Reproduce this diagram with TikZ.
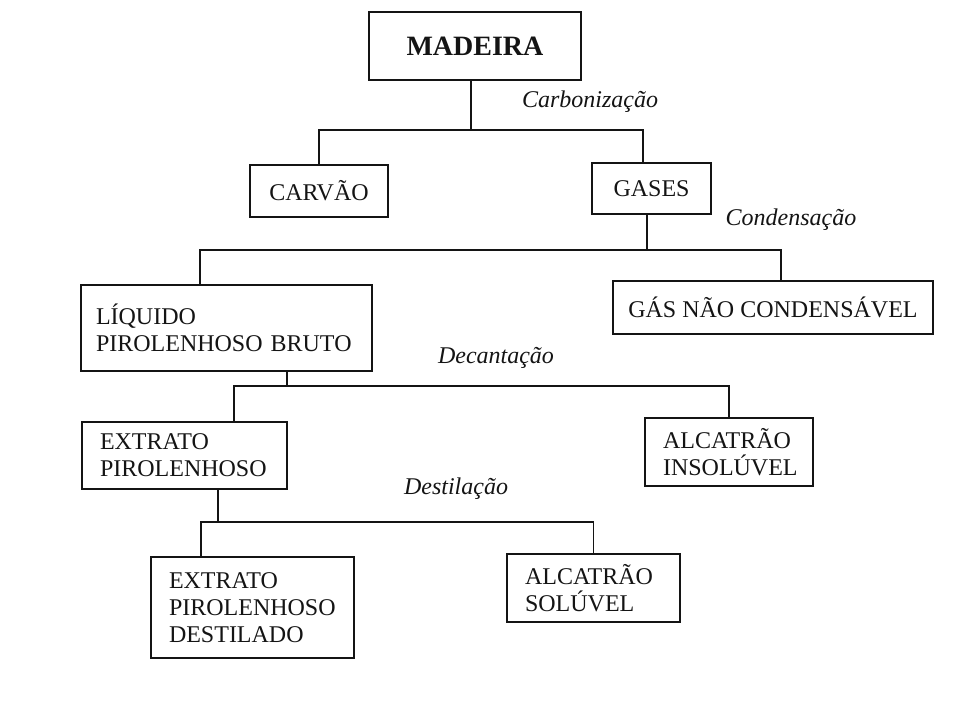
\documentclass[tikz,border=0pt]{standalone}
\usepackage{fontspec}
\setmainfont{Liberation Serif}
\usepackage{xcolor}
\usetikzlibrary{positioning,calc}
\definecolor{tinta}{RGB}{20, 20, 20}

\tikzset{
  caixa/.style={draw=tinta, line width=1.8pt, inner xsep=18pt, inner ysep=0pt,
    align=left, text=tinta, font=\fontsize{24}{27}\selectfont},
  centrada/.style={caixa, align=center, inner xsep=0pt},
  rotulo/.style={text=tinta, font=\fontsize{24}{27}\selectfont\itshape},
  ligacao/.style={draw=tinta, line width=1.5pt}
}

\begin{document}
\begin{tikzpicture}[x=1pt, y=-1pt]
        % Page frame
        \useasboundingbox (0,0) rectangle (960,720);
        % Boxes
        \node[centrada, minimum width=212pt, minimum height=68pt,
          font=\fontsize{28}{30}\selectfont\bfseries] (madeira) at (475,46) {MADEIRA};
        \node[centrada, minimum width=138pt, minimum height=52pt] (carvao) at (319,191) {CARVÃO};
        \node[centrada, minimum width=119pt, minimum height=51pt] (gases) at (651.5,188.5) {GASES};
        \node[caixa, inner xsep=15pt, text width=261pt, minimum height=86pt] (liquido) at (226.5,328) {LÍQUIDO\\PIROLENHOSO BRUTO};
        \node[centrada, minimum width=320pt, minimum height=53pt] (gasnc) at (773,307.5) {GÁS NÃO CONDENSÁVEL};
        \node[caixa, text width=169pt, minimum height=67pt] (extrato) at (184.5,455.5) {EXTRATO\\PIROLENHOSO};
        \node[caixa, text width=132pt, minimum height=68pt] (insoluvel) at (729,452) {ALCATRÃO\\INSOLÚVEL};
        \node[caixa, text width=167pt, minimum height=101pt] (destilado) at (252.5,607.5) {EXTRATO\\PIROLENHOSO\\DESTILADO};
        \node[caixa, text width=137pt, minimum height=68pt] (soluvel) at (593.5,588) {ALCATRÃO\\SOLÚVEL};
        % Junction points of the branches
        \coordinate (carb) at (471,130);
        \coordinate (cond) at (647,250);
        \coordinate (deca) at (287,386);
        \coordinate (dest) at (218,522);
        % Connectors
        \draw[ligacao] (carb |- madeira.south) -- (carb);
        \draw[ligacao] (carvao.north) |- (carb) -| ([xshift=-8.5pt]gases.north);
        \draw[ligacao] (cond |- gases.south) -- (cond);
        \draw[ligacao] ([xshift=-26.5pt]liquido.north) |- (cond) -| ([xshift=8pt]gasnc.north);
        \draw[ligacao] (deca |- liquido.south) -- (deca);
        \draw[ligacao] ([xshift=49.5pt]extrato.north) |- (deca) -| (insoluvel.north);
        \draw[ligacao] (dest |- extrato.south) -- (dest);
        \draw[ligacao] ([xshift=-51.5pt]destilado.north) |- (dest) -| (soluvel.north);
        % Process names
        \node[rotulo] (carbonizacao) at (590,102) {Carbonização};
        \node[rotulo] (condensacao) at (791,220) {Condensação};
        \node[rotulo] (decantacao) at (496,358) {Decantação};
        \node[rotulo] (destilacao) at (456,489) {Destilação};
    \end{tikzpicture}
\end{document}
